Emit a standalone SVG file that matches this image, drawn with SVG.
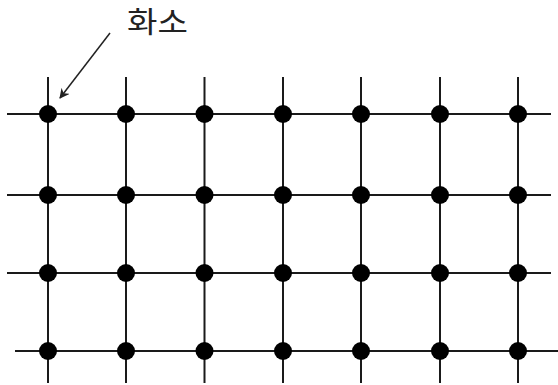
<svg xmlns="http://www.w3.org/2000/svg" width="558" height="385" viewBox="0 0 558 385">
<style>
.ln{stroke:#1a1a1a;stroke-width:2;fill:none}
.px{fill:#000}
.lbl{font-family:"Noto Sans CJK KR","Liberation Sans",sans-serif;font-size:29px;fill:#222}
</style>
<defs>
<marker id="ah" markerWidth="10" markerHeight="10" refX="9" refY="5" orient="auto" markerUnits="userSpaceOnUse">
<path d="M0,0 L10,5 L0,10 L3,5 Z" fill="#222"/>
</marker>
</defs>
<rect width="558" height="385" fill="#fff"/>
<g id="grid" class="ln">
<line x1="7" y1="114" x2="551" y2="114"/>
<line x1="7" y1="195" x2="551" y2="195"/>
<line x1="7" y1="273" x2="551" y2="273"/>
<line x1="15" y1="351" x2="558" y2="351"/>
<line x1="48" y1="77" x2="48" y2="383"/>
<line x1="126" y1="77" x2="126" y2="383"/>
<line x1="204.5" y1="77" x2="204.5" y2="383"/>
<line x1="283" y1="77" x2="283" y2="383"/>
<line x1="361" y1="77" x2="361" y2="383"/>
<line x1="440" y1="77" x2="440" y2="383"/>
<line x1="518" y1="77" x2="518" y2="383"/>
</g>
<g id="pixels" class="px">
<circle cx="48" cy="114" r="9"/><circle cx="126" cy="114" r="9"/><circle cx="204.5" cy="114" r="9"/><circle cx="283" cy="114" r="9"/><circle cx="361" cy="114" r="9"/><circle cx="440" cy="114" r="9"/><circle cx="518" cy="114" r="9"/>
<circle cx="48" cy="195" r="9"/><circle cx="126" cy="195" r="9"/><circle cx="204.5" cy="195" r="9"/><circle cx="283" cy="195" r="9"/><circle cx="361" cy="195" r="9"/><circle cx="440" cy="195" r="9"/><circle cx="518" cy="195" r="9"/>
<circle cx="48" cy="273" r="9"/><circle cx="126" cy="273" r="9"/><circle cx="204.5" cy="273" r="9"/><circle cx="283" cy="273" r="9"/><circle cx="361" cy="273" r="9"/><circle cx="440" cy="273" r="9"/><circle cx="518" cy="273" r="9"/>
<circle cx="48" cy="351" r="9"/><circle cx="126" cy="351" r="9"/><circle cx="204.5" cy="351" r="9"/><circle cx="283" cy="351" r="9"/><circle cx="361" cy="351" r="9"/><circle cx="440" cy="351" r="9"/><circle cx="518" cy="351" r="9"/>
</g>
<g id="label">
<text class="lbl" transform="translate(127,33) scale(1.14,1)">화소</text>
</g>
<g id="connectors">
<line x1="110" y1="33" x2="60" y2="98" stroke="#222" stroke-width="1.5" marker-end="url(#ah)"/>
</g>
</svg>
